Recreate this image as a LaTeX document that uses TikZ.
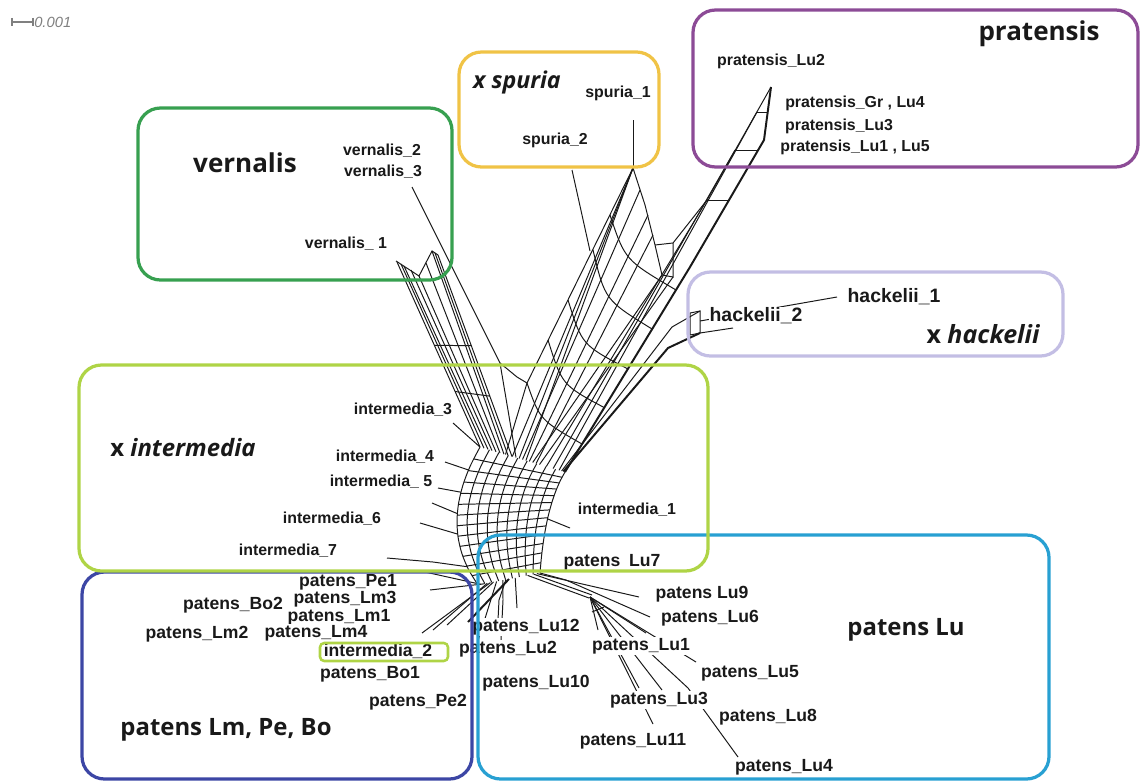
\documentclass[tikz,border=0pt]{standalone}
\usepackage{fontspec}
\setmainfont{Liberation Sans}
\newfontfamily\taxfont{Open Sans}
\usetikzlibrary{calc}
\definecolor{ink}{RGB}{25,25,25}
\definecolor{vern}{RGB}{55,160,80}
\definecolor{spur}{RGB}{240,195,70}
\definecolor{prat}{RGB}{140,75,150}
\definecolor{hack}{RGB}{195,190,228}
\definecolor{inter}{RGB}{175,212,70}
\definecolor{lmpe}{RGB}{60,70,165}
\definecolor{lupa}{RGB}{40,160,210}
\tikzset{
  net/.style={line width=0.7pt,draw=ink},
  heavy/.style={line width=1.4pt,draw=ink},
  grp/.style={draw=#1,line width=2.3pt,rounded corners=16pt},
  lab/.style={font=\bfseries\fontsize{11.3}{13}\selectfont,text=ink,fill=white,inner sep=0.5pt},
  plab/.style={lab,font=\bfseries\fontsize{12.5}{14}\selectfont},
  hlab/.style={lab,font=\bfseries\fontsize{13.8}{15}\selectfont},
  taxon/.style={font=\taxfont\bfseries\fontsize{17}{20}\selectfont,text=ink,inner sep=0pt},
  bigtaxon/.style={taxon,font=\taxfont\bfseries\fontsize{18.5}{20}\selectfont},
}

\begin{document}
\begin{tikzpicture}[x=0.025cm,y=-0.025cm,
  declare function={
    fx(\u,\v)=(1-\v)^2*(480+85*\u)+2*\v*(1-\v)*(435+110*\u)+\v^2*(478+62*\u);
    fy(\u,\v)=(1-\v)^2*(447+25*\u)+2*\v*(1-\v)*(525-20*\u)+\v^2*(585-12*\u);
  }]
  \useasboundingbox (0,0) rectangle (1141,782);

  % scale bar
  \draw[gray,line width=0.8pt] (12,18) -- (12,26) (12,22) -- (33,22) (33,18) -- (33,26);
  \node[font=\itshape\fontsize{10.5}{12}\selectfont,text=gray,anchor=west,inner sep=0pt] (scl) at (34,22) {0.001};

  % central mesh
  \foreach \c in {0,...,9}{
    \pgfmathsetmacro\u{\c/9}
    \draw[net] plot[smooth,domain=0:1,samples=9,variable=\v] ({fx(\u,\v)},{fy(\u,\v)});
  }
  \foreach \r in {1,...,12}{
    \pgfmathsetmacro\v{\r/13}
    \draw[net] plot[domain=0:1,samples=10,variable=\u] ({fx(\u,\v)},{fy(\u,\v)});
  }

  % vernalis arm
  \foreach \xa/\ya [count=\i from 0] in {397/262,401/264,404/266,411/270,419/276,426/263,432/251,435/253,438/255}
    \draw[net] (\xa,\ya) -- ({480+4*\i},{447+1.2*\i});
  \draw[net] (412,187) -- (500,363) -- (516,457.5);
  \draw[net] (396,261) -- (419,276) -- (432,251) -- (438,255);
  \foreach \t in {0.45,0.7}
    \draw[net] ({397*(1-\t)+480*\t},{262*(1-\t)+447*\t}) -- ({438*(1-\t)+512*\t},{255*(1-\t)+456.6*\t});
  \draw[net] (500,363) -- (517,377) -- (527,383);

  % spuria / pratensis arm
  \coordinate (S) at (633,168);
  \draw[net] (633,120) -- (S);
  \draw[net] (S) -- (527,383) -- (505.5,454.5);
  \foreach \xb/\yb in {512.3/456.5,519.1/458.5,525.9/460.5}
    \draw[net] (S) -- (\xb,\yb);
  \draw[net] (640,190) -- (522.5,459.5);
  \draw[net] (648,215) -- (529.3,461.5);
  \draw[net] (653,235) -- (536.1,463.5);
  \draw[net] (S) -- (645,205) -- (655,245) -- (662,275) -- (532.7,462.5);
  \draw[net] (662,275) -- (673,277) -- (673,243) -- (707,200) -- (771,87);
  \draw[net] (655,245) -- (673,243);
  \draw[net] (673,277) -- (539.5,464.5);
  \draw[net] (707,200) -- (546.3,466.5);
  \draw[net] (735,150) -- (553.1,468.5);
  \draw[net] (757,112) -- (559,470.3);
  \draw[heavy] (771,87) -- (764,140) -- (690,267) -- (565,472);
  \draw[net] (707,200) -- (729,200) (735,150) -- (758,150) (757,112) -- (767,112);
  \draw[net] (610,215) .. controls (625,260) .. (676,290);
  \draw[net] (593,250) .. controls (605,300) .. (652,329);
  \draw[net] (568,300) .. controls (582,345) .. (628,369);
  \draw[net] (548,340) .. controls (562,385) .. (605,408);
  \draw[net] (527,383) .. controls (540,420) .. (582,444);
  \draw[net] (572,170) -- (590,251);

  % hackelii
  \draw[net] (690,313) -- (700,311) -- (700,333) -- (690,335) -- cycle;
  \draw[net] (700,311) -- (672,327) -- (561.6,471);
  \draw[heavy] (700,333) -- (668,348) -- (563.3,471.5);
  \draw[net] (700,321) -- (837,297);
  \draw[net] (700,333) -- (733,328);

  % intermedia tips
  \draw[net] (453,423) -- (480,447);
  \draw[net] (445,462) -- (468.5,470);
  \draw[net] (438,488) -- (460.9,492.2);
  \draw[net] (432,503) -- (457.3,513.6);
  \draw[net] (420,523) -- (457.7,534.1);
  \draw[net] (387,558) -- (433,562) -- (467.1,566.7);
  \draw[net] (547.6,518.9) -- (570,528);

  % patens Lm, Pe, Bo tips
  \foreach \u/\ex/\ey in {0.05/425/572,0.1/430/590,0.15/433/630,0.2/422/633,0.25/447/625,0.3/472/660}
    \draw[net] ({478+62*\u},{585-12*\u}) -- (\ex,\ey);
  \draw[heavy] (509,579) -- (468,622);

  % patens Lu tips
  \draw[net] (505.9,579.6) -- (499,600) -- (498,620);
  \draw[net] (502.8,580.2) -- (503,600) -- (501,640);
  \draw[net] (515.2,577.8) -- (517,608);
  \draw[net] (527.6,575.4) -- (589,598);
  \draw[net] (533.8,574.2) -- (592,595);
  \draw[net] (536.9,573.6) -- (639,597);
  \draw[net] (540,573) -- (566,580) -- (650,617);
  \foreach \ex/\ey in {646/633,598/630,639/688,662/690,696/662,653/724}
    \draw[net] (590,597) -- (\ex,\ey);
  \draw[net] (590,597) -- (688,688) -- (738,757);
  \draw[net] (592,612) -- (604,607);

  % tip labels
  \node[lab] (v2) at (382,151) {vernalis\_2};
  \node[lab] (v3) at (383,172) {vernalis\_3};
  \node[lab] (v1) at (346,244) {vernalis\_ 1};
  \node[lab] (sp1) at (618,93) {spuria\_1};
  \node[lab] (sp2) at (555,140) {spuria\_2};
  \node[lab] (pr2) at (771,61) {pratensis\_Lu2};
  \node[lab] (prG) at (855,103) {pratensis\_Gr , Lu4};
  \node[lab] (pr3) at (839,126) {pratensis\_Lu3};
  \node[lab] (pr1) at (855,147) {pratensis\_Lu1 , Lu5};
  \node[hlab] (hk1) at (894,297) {hackelii\_1};
  \node[hlab] (hk2) at (756,316) {hackelii\_2};
  \node[lab] (im3) at (403,410) {intermedia\_3};
  \node[lab] (im4) at (385,457) {intermedia\_4};
  \node[lab] (im5) at (381,482) {intermedia\_ 5};
  \node[lab] (im6) at (332,519) {intermedia\_6};
  \node[lab] (im7) at (288,551) {intermedia\_7};
  \node[lab] (im1) at (627,510) {intermedia\_1};
  \node[plab] (im2) at (378,651) {intermedia\_2};
  \node[plab] (pPe1) at (348,582) {patens\_Pe1};
  \node[plab] (pLm3) at (345,599) {patens\_Lm3};
  \node[plab] (pLm1) at (339,617) {patens\_Lm1};
  \node[plab] (pBo2) at (233,605) {patens\_Bo2};
  \node[plab] (pLm2) at (197,634) {patens\_Lm2};
  \node[plab] (pLm4) at (316,633) {patens\_Lm4};
  \node[plab] (pBo1) at (370,674) {patens\_Bo1};
  \node[plab] (pPe2) at (418,702) {patens\_Pe2};
  \node[plab] (pLu7) at (612,562) {patens\enspace Lu7};
  \node[plab] (pLu12) at (526,627) {patens\_Lu12};
  \node[plab] (pLu2) at (508,649) {patens\_Lu2};
  \node[plab] (pLu10) at (536,683) {patens\_Lu10};
  \node[plab] (pLu9) at (702,594) {patens Lu9};
  \node[plab] (pLu6) at (710,618) {patens\_Lu6};
  \node[plab] (pLu1) at (641,646) {patens\_Lu1};
  \node[plab] (pLu5) at (750,673) {patens\_Lu5};
  \node[plab] (pLu3) at (659,700) {patens\_Lu3};
  \node[plab] (pLu8) at (768,717) {patens\_Lu8};
  \node[plab] (pLu11) at (633,741) {patens\_Lu11};
  \node[plab] (pLu4) at (784,767) {patens\_Lu4};

  % taxon names
  \node[bigtaxon] (tVern) at (245,163) {vernalis};
  \node[taxon,font=\taxfont\bfseries\fontsize{16.5}{20}\selectfont] (tSpur) at (517,82) {\itshape x spuria};
  \node[bigtaxon] (tPrat) at (1039,34) {pratensis};
  \node[taxon,font=\taxfont\bfseries\fontsize{17.8}{20}\selectfont] (tHack) at (983,334) {x \itshape hackelii};
  \node[taxon] (tInter) at (183,448) {x \itshape intermedia};
  \node[taxon] (tLmPeBo) at (226,730) {patens Lm, Pe, Bo};
  \node[taxon] (tLu) at (906,630) {patens Lu};

  % group frames
  \draw[grp=vern] (138,108) rectangle (452,280);
  \draw[grp=spur] (459,52) rectangle (659,167);
  \draw[grp=prat] (693,10) rectangle (1138,167);
  \draw[grp=hack] (688,272) rectangle (1063,356);
  \draw[grp=lmpe] (82,572) rectangle (472,779);
  \draw[grp=lupa] (478,535) rectangle (1049,779);
  \draw[grp=inter] (79,365) rectangle (708,571);
  \draw[grp=inter,line width=1.8pt,rounded corners=3pt] (320,643) rectangle (448,661);
\end{tikzpicture}
\end{document}
